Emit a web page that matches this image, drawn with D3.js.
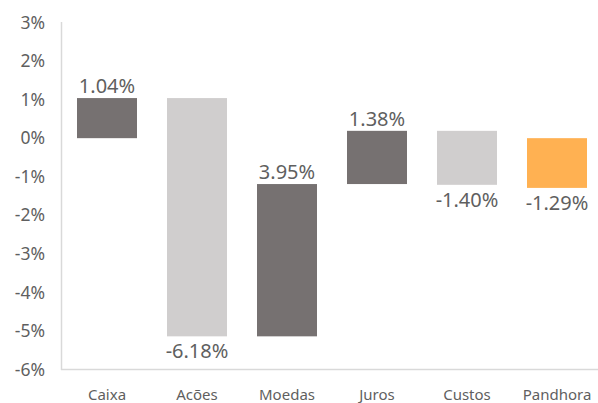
<!DOCTYPE html>
<html>
<head>
<meta charset="utf-8">
<script src="https://cdn.jsdelivr.net/npm/d3@7"></script>
<style>
  body { margin: 0; background: #fff; }
  svg { display: block; font-family: "Noto Sans", sans-serif; }
</style>
</head>
<body>
<div id="chart"></div>
<script>
// waterfall data: each step's change, last one is the total
const categories = ['Caixa', 'Acões', 'Moedas', 'Juros', 'Custos', 'Pandhora'];
const changes = [1.04, -6.18, 3.95, 1.38, -1.40, -1.29];
const isTotal = [false, false, false, false, false, true];
const yTicks = [3, 2, 1, 0, -1, -2, -3, -4, -5, -6];

const width = 598, height = 403;

const svg = d3.select('#chart').append('svg')
    .attr('width', width)
    .attr('height', height);

// build start/end of each bar
let running = 0;
const bars = categories.map((c, i) => {
    let start, end;
    if (isTotal[i]) {
        start = 0; end = changes[i];
    } else {
        start = running; end = running + changes[i];
        running = end;
    }
    return { label: c, value: changes[i], start, end, total: isTotal[i] };
});

const x = d3.scaleBand()
    .domain(categories)
    .range([62, 602])
    .paddingInner(1 / 3)
    .paddingOuter(1 / 6);

const y = d3.scaleLinear()
    .domain([-6, 3])
    .range([369.5, 22.5]);

// axes lines
svg.append('line')
    .attr('x1', 61.5).attr('x2', 61.5)
    .attr('y1', 22).attr('y2', 370)
    .attr('stroke', '#d9d9d9').attr('stroke-width', 1.5);
svg.append('line')
    .attr('x1', 61).attr('x2', width)
    .attr('y1', 369.5).attr('y2', 369.5)
    .attr('stroke', '#d9d9d9').attr('stroke-width', 1.5);

// y tick labels
svg.append('g').selectAll('text')
    .data(yTicks)
    .join('text')
    .attr('x', 45)
    .attr('y', d => y(d))
    .attr('dy', '0.35em')
    .attr('text-anchor', 'end')
    .attr('fill', '#5f5f5f')
    .attr('font-size', 17.5)
    .text(d => d + '%');

// x labels
svg.append('g').selectAll('text')
    .data(categories)
    .join('text')
    .attr('x', d => x(d) + x.bandwidth() / 2)
    .attr('y', 400)
    .attr('text-anchor', 'middle')
    .attr('fill', '#5f5f5f')
    .attr('font-size', 15)
    .text(d => d);

const color = d => d.total ? '#ffb152' : (d.value >= 0 ? '#767171' : '#d0cece');

svg.append('g').selectAll('rect')
    .data(bars)
    .join('rect')
    .attr('x', d => x(d.label))
    .attr('y', d => y(Math.max(d.start, d.end)))
    .attr('width', x.bandwidth())
    .attr('height', d => Math.abs(y(d.start) - y(d.end)))
    .attr('fill', color);

// value labels
svg.append('g').selectAll('text')
    .data(bars)
    .join('text')
    .attr('x', d => x(d.label) + x.bandwidth() / 2)
    .attr('y', d => d.value >= 0
        ? y(Math.max(d.start, d.end)) - 5
        : y(Math.min(d.start, d.end)) + 22)
    .attr('text-anchor', 'middle')
    .attr('fill', '#5f5f5f')
    .attr('font-size', 20)
    .text(d => d.value.toFixed(2) + '%');
</script>
</body>
</html>
